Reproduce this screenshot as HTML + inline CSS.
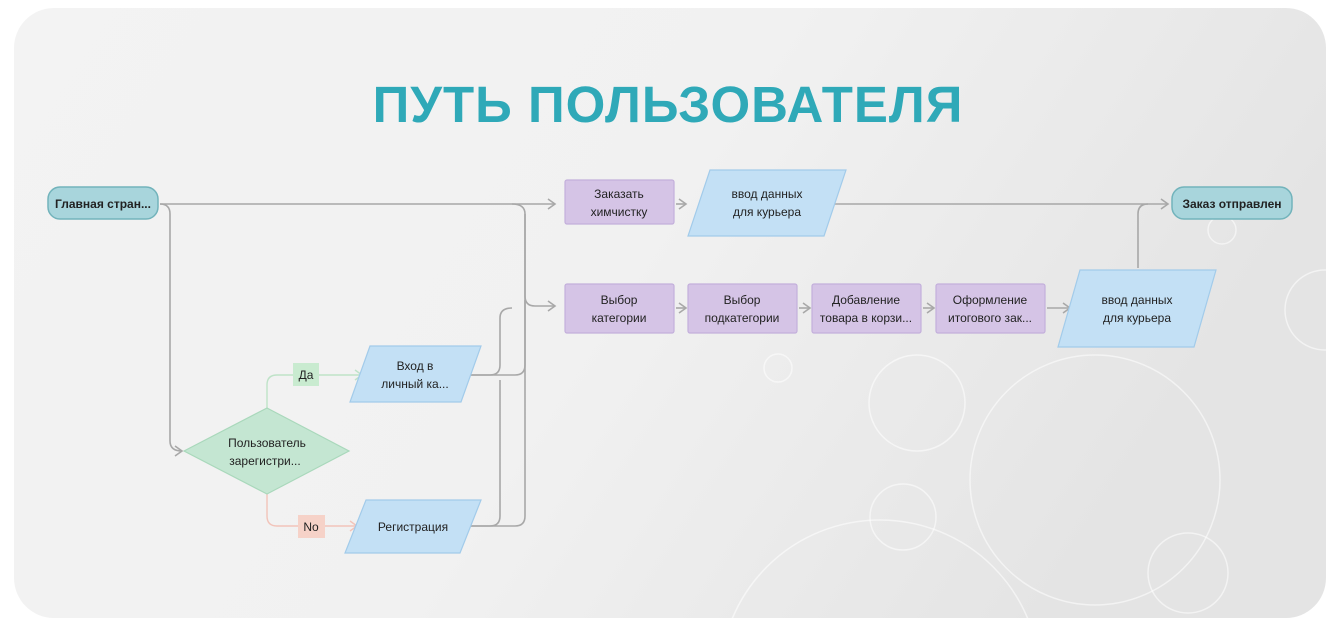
<!DOCTYPE html>
<html><head><meta charset="utf-8"><style>
html,body{margin:0;padding:0;background:#fff;width:1340px;height:625px;overflow:hidden;}
svg{display:block;font-family:"Liberation Sans",sans-serif;}
</style></head><body>
<svg width="1340" height="625" viewBox="0 0 1340 625" xmlns="http://www.w3.org/2000/svg">
<defs>
<linearGradient id="bg" x1="0" y1="0" x2="1" y2="0.3">
<stop offset="0" stop-color="#f3f3f3"/><stop offset="0.55" stop-color="#f1f1f1"/><stop offset="1" stop-color="#e4e4e4"/>
</linearGradient>
<clipPath id="cp"><rect x="14" y="8" width="1312" height="610" rx="40"/></clipPath>
<marker id="ar" markerWidth="12" markerHeight="12" refX="10" refY="6" orient="auto" markerUnits="userSpaceOnUse">
<path d="M3,1 L10,6 L3,11" fill="none" stroke="#a8a8a8" stroke-width="1.6"/></marker>
<marker id="ag" markerWidth="12" markerHeight="12" refX="10" refY="6" orient="auto" markerUnits="userSpaceOnUse">
<path d="M3,1 L10,6 L3,11" fill="none" stroke="#bfe3c8" stroke-width="1.4"/></marker>
<marker id="ap" markerWidth="12" markerHeight="12" refX="10" refY="6" orient="auto" markerUnits="userSpaceOnUse">
<path d="M3,1 L10,6 L3,11" fill="none" stroke="#f2c4ba" stroke-width="1.4"/></marker>
</defs>
<rect x="14" y="8" width="1312" height="610" rx="40" fill="url(#bg)"/>
<g fill="none" stroke="#ffffff" stroke-opacity="0.55" stroke-width="1.5" clip-path="url(#cp)">
<circle cx="1095" cy="480" r="125"/>
<circle cx="917" cy="403" r="48"/>
<circle cx="903" cy="517" r="33"/>
<circle cx="1188" cy="573" r="40"/>
<circle cx="880" cy="680" r="160"/>
<circle cx="1325" cy="310" r="40"/>
<circle cx="1222" cy="230" r="14"/>
<circle cx="778" cy="368" r="14"/>
</g>
<text x="668" y="122" text-anchor="middle" font-size="51" font-weight="bold" fill="#2fa9b8" letter-spacing="1">ПУТЬ ПОЛЬЗОВАТЕЛЯ</text>

<g fill="none" stroke="#a8a8a8" stroke-width="1.6">
<path d="M160,204 L555,204" marker-end="url(#ar)"/>
<path d="M160,204 Q170,204 170,214 L170,441 Q170,451 182,451" marker-end="url(#ar)"/>
<path d="M512,204 Q525,204 525,214 L525,296 Q525,306 535,306 L555,306" marker-end="url(#ar)"/>
<path d="M470,375 L515,375 Q525,375 525,365 L525,214"/>
<path d="M470,526 L515,526 Q525,526 525,516 L525,300"/>
<path d="M470,375 L490,375 Q500,375 500,365 L500,318 Q500,308 512,308"/>
<path d="M470,526 L490,526 Q500,526 500,516 L500,380"/>
<path d="M676,204 L686,204" marker-end="url(#ar)"/>
<path d="M832,204 L1168,204" marker-end="url(#ar)"/>
<path d="M1138,268 L1138,214 Q1138,204 1148,204"/>
<path d="M676,308 L686,308" marker-end="url(#ar)"/>
<path d="M799,308 L810,308" marker-end="url(#ar)"/>
<path d="M923,308 L934,308" marker-end="url(#ar)"/>
<path d="M1047,308 L1070,308" marker-end="url(#ar)"/>
</g>
<path d="M267,408 L267,385 Q267,375 277,375 L362,375" fill="none" stroke="#bfe3c8" stroke-width="1.4" marker-end="url(#ag)"/>
<path d="M267,494 L267,516 Q267,526 277,526 L357,526" fill="none" stroke="#f2c4ba" stroke-width="1.4" marker-end="url(#ap)"/>

<g font-size="12" fill="#222" text-anchor="middle">
<rect x="48" y="187" width="110" height="32" rx="12" fill="#a8d5dc" stroke="#72b3bb" stroke-width="1.5"/>
<text x="103" y="208" font-weight="bold">Главная стран...</text>
<rect x="1172" y="187" width="120" height="32" rx="12" fill="#a8d5dc" stroke="#72b3bb" stroke-width="1.5"/>
<text x="1232" y="208" font-weight="bold">Заказ отправлен</text>

<g fill="#d5c4e6" stroke="#c3afdb" stroke-width="1.2">
<rect x="565" y="180" width="109" height="44" rx="2"/>
<rect x="565" y="284" width="109" height="49" rx="2"/>
<rect x="688" y="284" width="109" height="49" rx="2"/>
<rect x="812" y="284" width="109" height="49" rx="2"/>
<rect x="936" y="284" width="109" height="49" rx="2"/>
</g>
<g fill="#c3e0f5" stroke="#a2cbea" stroke-width="1.2">
<polygon points="710,170 846,170 824,236 688,236"/>
<polygon points="1080,270 1216,270 1194,347 1058,347"/>
<polygon points="370,346 481,346 461,402 350,402"/>
<polygon points="366,500 481,500 460,553 345,553"/>
</g>
<polygon points="184,451 267,408 349,451 267,494" fill="#c4e6d2" stroke="#a9d8bb" stroke-width="1.2"/>
<rect x="293" y="363" width="26" height="23" fill="#c9ebd0"/>
<text x="306" y="379">Да</text>
<rect x="298" y="515" width="27" height="23" fill="#f6d2c8"/>
<text x="311" y="531">No</text>

<text x="619" y="198">Заказать</text><text x="619" y="216">химчистку</text>
<text x="767" y="198">ввод данных</text><text x="767" y="216">для курьера</text>
<text x="619" y="304">Выбор</text><text x="619" y="322">категории</text>
<text x="742" y="304">Выбор</text><text x="742" y="322">подкатегории</text>
<text x="866" y="304">Добавление</text><text x="866" y="322">товара в корзи...</text>
<text x="990" y="304">Оформление</text><text x="990" y="322">итогового зак...</text>
<text x="1137" y="304">ввод данных</text><text x="1137" y="322">для курьера</text>
<text x="415" y="370">Вход в</text><text x="415" y="388">личный ка...</text>
<text x="413" y="531">Регистрация</text>
<text x="267" y="447">Пользователь</text><text x="265" y="465">зарегистри...</text>
</g>
</svg>
</body></html>
